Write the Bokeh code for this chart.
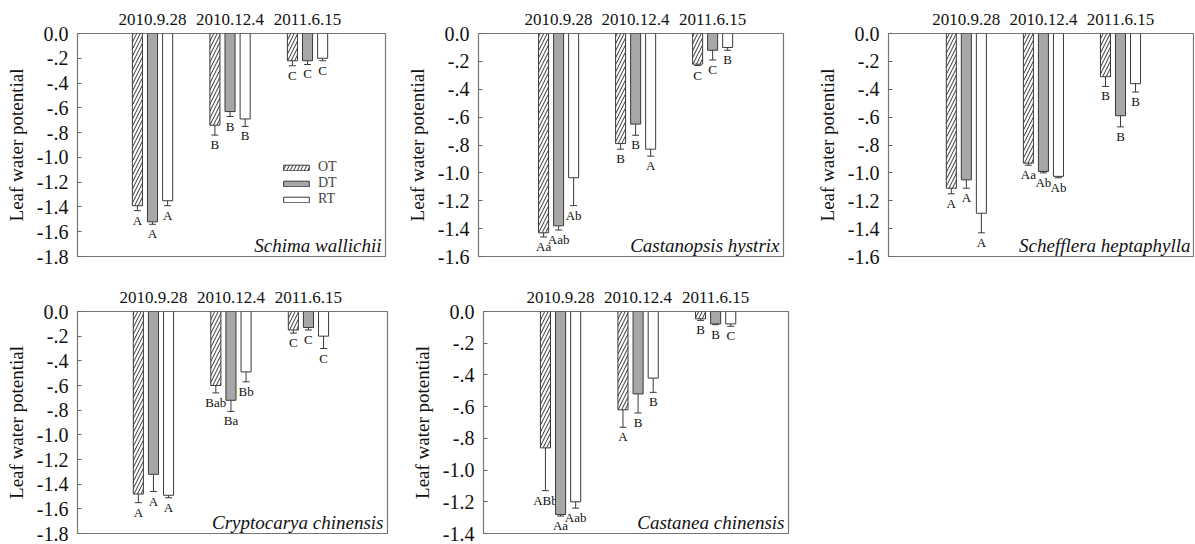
import numpy as np
from bokeh.plotting import figure
from bokeh.models import (ColumnDataSource, FixedTicker, CustomJSTickFormatter,
                          Legend, LegendItem, Label)
from bokeh.layouts import column, row
from bokeh.embed import file_html
from bokeh.resources import INLINE

# ---------------- data ----------------
dates = ["2010.9.28", "2010.12.4", "2011.6.15"]
treatments = ["OT", "DT", "RT"]
species = ["Schima wallichii", "Castanopsis hystrix", "Schefflera heptaphylla",
           "Cryptocarya chinensis", "Castanea chinensis"]
y_min = [-1.8, -1.6, -1.6, -1.8, -1.4]

# Schima wallichii
sw_OT = [-1.39, -0.74, -0.22]
sw_DT = [-1.52, -0.63, -0.22]
sw_RT = [-1.35, -0.69, -0.20]
sw_OT_se = [0.04, 0.08, 0.04]
sw_DT_se = [0.02, 0.04, 0.03]
sw_RT_se = [0.04, 0.06, 0.02]
sw_OT_sig = ["A", "B", "C"]
sw_DT_sig = ["A", "B", "C"]
sw_RT_sig = ["A", "B", "C"]

# Castanopsis hystrix
ch_OT = [-1.43, -0.79, -0.22]
ch_DT = [-1.38, -0.65, -0.12]
ch_RT = [-1.035, -0.83, -0.10]
ch_OT_se = [0.03, 0.04, 0.01]
ch_DT_se = [0.03, 0.08, 0.07]
ch_RT_se = [0.20, 0.05, 0.02]
ch_OT_sig = ["Aa", "B", "C"]
ch_DT_sig = ["Aab", "B", "C"]
ch_RT_sig = ["Ab", "A", "B"]

# Schefflera heptaphylla
sh_OT = [-1.11, -0.93, -0.31]
sh_DT = [-1.05, -0.99, -0.59]
sh_RT = [-1.29, -1.025, -0.36]
sh_OT_se = [0.04, 0.015, 0.07]
sh_DT_se = [0.06, 0.01, 0.08]
sh_RT_se = [0.14, 0.01, 0.06]
sh_OT_sig = ["A", "Aa", "B"]
sh_DT_sig = ["A", "Ab", "B"]
sh_RT_sig = ["A", "Ab", "B"]

# Cryptocarya chinensis
cc_OT = [-1.48, -0.60, -0.15]
cc_DT = [-1.32, -0.72, -0.13]
cc_RT = [-1.49, -0.49, -0.20]
cc_OT_se = [0.07, 0.06, 0.025]
cc_DT_se = [0.14, 0.09, 0.02]
cc_RT_se = [0.02, 0.08, 0.10]
cc_OT_sig = ["A", "Bab", "C"]
cc_DT_sig = ["A", "Ba", "C"]
cc_RT_sig = ["A", "Bb", "C"]

# Castanea chinensis
cn_OT = [-0.86, -0.62, -0.046]
cn_DT = [-1.28, -0.52, -0.078]
cn_RT = [-1.20, -0.42, -0.078]
cn_OT_se = [0.27, 0.11, 0.01]
cn_DT_se = [0.01, 0.12, 0.005]
cn_RT_se = [0.04, 0.09, 0.015]
cn_OT_sig = ["ABb", "A", "B"]
cn_DT_sig = ["Aa", "B", "B"]
cn_RT_sig = ["Aab", "B", "C"]

# ---------------- styling ----------------
SERIF = "Liberation Serif"
OFFS = [-0.195, 0.0, 0.195]
BAR_W = 0.13
CAP = 0.045
FILLS = ["white", "#a7a7a7", "white"]
HATCH = ["/", " ", " "]
EDGE = "#3a3a3a"

Y_FMT = """
const s = Math.abs(tick) < 1e-9 ? "0.0" : tick.toFixed(1);
if (s.startsWith("-0.")) { return "-" + s.slice(2); }
return s;
"""


def make_panel(name, means, ses, sigs, ymin, width, height, bl, br, bt, bb, xr,
               legend_loc=None):
    p = figure(width=width, height=height, x_range=xr, y_range=(ymin, 0),
               output_backend="svg", toolbar_location=None,
               min_border_left=bl, min_border_right=br,
               min_border_top=bt, min_border_bottom=bb,
               x_axis_location="above")
    p.grid.visible = False
    p.outline_line_color = "#777777"
    p.outline_line_width = 1.2

    xa = p.xaxis[0]
    xa.ticker = FixedTicker(ticks=[1, 2, 3])
    xa.formatter = CustomJSTickFormatter(args=dict(d=dates),
                                         code="return d[Math.round(tick) - 1];")
    xa.axis_line_color = None
    xa.major_tick_line_color = None
    xa.minor_tick_line_color = None
    xa.major_label_text_font = SERIF
    xa.major_label_text_font_size = "17px"
    xa.major_label_text_color = "#111111"
    xa.major_label_standoff = 3

    ya = p.yaxis[0]
    ya.ticker = FixedTicker(ticks=list(np.round(np.arange(0, ymin - 1e-9, -0.2), 1)))
    ya.formatter = CustomJSTickFormatter(code=Y_FMT)
    ya.axis_line_color = None
    ya.major_tick_in = 4
    ya.major_tick_out = 0
    ya.major_tick_line_color = "#666666"
    ya.minor_tick_line_color = None
    ya.major_label_text_font = SERIF
    ya.major_label_text_font_size = "20px"
    ya.major_label_text_color = "#111111"
    ya.major_label_standoff = 9
    ya.axis_label = "Leaf water potential"
    ya.axis_label_text_font = SERIF
    ya.axis_label_text_font_style = "normal"
    ya.axis_label_text_font_size = "19px"
    ya.axis_label_text_color = "#111111"
    ya.axis_label_standoff = 7

    renderers = []
    base = np.arange(1, len(dates) + 1)
    for j, t in enumerate(treatments):
        m = np.array(means[j])
        e = np.array(ses[j])
        x = base + OFFS[j]
        src = ColumnDataSource(dict(x=x, top=np.zeros_like(m), bottom=m,
                                    low=m - e, xl=x - CAP, xr=x + CAP, sig=sigs[j]))
        r = p.vbar(x="x", width=BAR_W, top="top", bottom="bottom", source=src,
                   fill_color=FILLS[j], line_color=EDGE, line_width=1,
                   hatch_pattern=HATCH[j], hatch_color="#333333",
                   hatch_scale=7, hatch_weight=1)
        renderers.append(r)
        p.segment(x0="x", y0="bottom", x1="x", y1="low", source=src,
                  line_color=EDGE, line_width=1)
        p.segment(x0="xl", y0="low", x1="xr", y1="low", source=src,
                  line_color=EDGE, line_width=1)
        p.text(x="x", y="low", text="sig", source=src, text_align="center",
               text_baseline="top", y_offset=2, text_font_size="13px",
               text_font={"value": SERIF}, text_color="#111111")

    lab = Label(x=xr[1], y=ymin, x_offset=-4, y_offset=1, text=name,
                text_align="right", text_baseline="bottom",
                text_font=SERIF, text_font_style="italic",
                text_font_size="19px", text_color="#111111")
    p.add_layout(lab)

    if legend_loc is not None:
        leg = Legend(items=[LegendItem(label=t, renderers=[r])
                            for t, r in zip(treatments, renderers)],
                     location=legend_loc, glyph_width=32, glyph_height=7,
                     label_text_font=SERIF, label_text_font_size="14px",
                     label_height=16, spacing=0, padding=0, margin=0,
                     label_standoff=6, background_fill_alpha=0,
                     border_line_color=None)
        p.add_layout(leg)
    return p


p1 = make_panel(species[0], [sw_OT, sw_DT, sw_RT], [sw_OT_se, sw_DT_se, sw_RT_se],
                [sw_OT_sig, sw_DT_sig, sw_RT_sig], y_min[0],
                400, 280, 77, 15, 33, 24, (0.032, 4.006), legend_loc=(203, 49))
p2 = make_panel(species[1], [ch_OT, ch_DT, ch_RT], [ch_OT_se, ch_DT_se, ch_RT_se],
                [ch_OT_sig, ch_DT_sig, ch_RT_sig], y_min[1],
                395, 280, 78, 12, 33, 24, (-0.04, 3.92))
p3 = make_panel(species[2], [sh_OT, sh_DT, sh_RT], [sh_OT_se, sh_DT_se, sh_RT_se],
                [sh_OT_sig, sh_DT_sig, sh_RT_sig], y_min[2],
                399, 280, 93, 0, 33, 24, (-0.01, 3.96))
p4 = make_panel(species[3], [cc_OT, cc_DT, cc_RT], [cc_OT_se, cc_DT_se, cc_RT_se],
                [cc_OT_sig, cc_DT_sig, cc_RT_sig], y_min[3],
                400, 264, 77, 13, 31, 11, (0.02, 4.02))
p5 = make_panel(species[4], [cn_OT, cn_DT, cn_RT], [cn_OT_se, cn_DT_se, cn_RT_se],
                [cn_OT_sig, cn_DT_sig, cn_RT_sig], y_min[4],
                400, 264, 83, 12, 31, 11, (0.006, 3.94))

layout = column(row(p1, p2, p3), row(p4, p5))
open("out.html", "w").write(file_html(layout, INLINE))
